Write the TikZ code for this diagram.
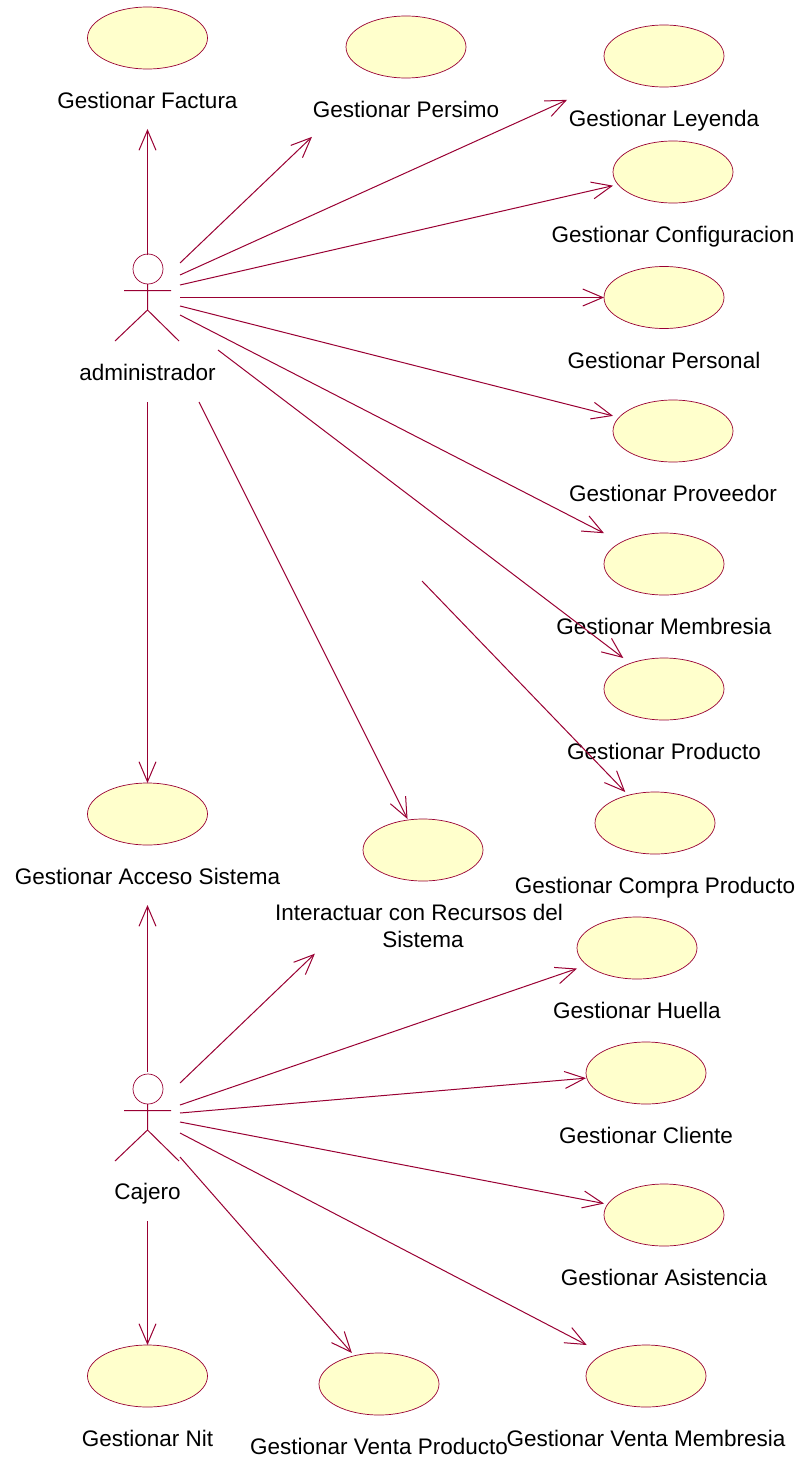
\documentclass[tikz,border=0pt]{standalone}
\usepackage{fontspec}
\setmainfont{Liberation Sans}
\usetikzlibrary{arrows.meta,shapes.geometric}
\definecolor{roseline}{HTML}{990033}
\definecolor{rosefill}{HTML}{FFFFCC}
\tikzset{
  usecase/.style={ellipse,draw=roseline,fill=rosefill,line width=0.7pt,minimum width=120pt,minimum height=62pt,inner sep=0pt,outer sep=0pt},
  ucbox/.style={rectangle,minimum width=120pt,minimum height=62pt,inner sep=0pt,outer sep=0pt},
  uclabel/.style={inner sep=0pt,outer sep=0pt,font=\fontsize{22.5}{27}\selectfont,text=black,text height=16pt,text depth=5pt},
  uclabeltwo/.style={inner sep=0pt,outer sep=0pt,align=center,font=\fontsize{22.5}{27}\selectfont,text=black},
  assoc/.style={draw=roseline,line width=1pt,-{Straight Barb[length=20pt,width=17pt,line width=1pt]}},
  limb/.style={draw=roseline,line width=1pt},
  acthead/.style={circle,draw=roseline,line width=0.7pt,minimum size=30pt,inner sep=0pt,outer sep=0pt,fill=white}
}
\begin{document}
\begin{tikzpicture}[x=1pt,y=-1pt]
\useasboundingbox (0,0) rectangle (799,1458);
% use cases
\foreach \n/\x/\y/\t in {
 fa/147.5/38/{Gestionar Factura}, pe/406/47/{Gestionar Persimo}, le/664/56/{Gestionar Leyenda},
 co/673/172/{Gestionar Configuracion}, ps/664/297.5/{Gestionar Personal}, pv/673/431/{Gestionar Proveedor},
 me/664/564/{Gestionar Membresia}, pd/664/689/{Gestionar Producto}, cp/655/823/{Gestionar Compra Producto},
 ac/147.5/814/{Gestionar Acceso Sistema}, hu/637/948/{Gestionar Huella}, cl/646/1073/{Gestionar Cliente},
 as/664/1215/{Gestionar Asistencia}, vm/646/1376/{Gestionar Venta Membresia}, vp/379/1384/{Gestionar Venta Producto},
 ni/147.5/1376/{Gestionar Nit}}{
  \node[usecase] (\n) at (\x,\y) {};
  \node[ucbox] (\n-b) at (\x,\y) {};
  \node[uclabel] (\n-l) at (\x,\y+65.3) {\t};
}
\node[usecase] (in) at (423,850) {};
\node[ucbox] (in-b) at (423,850) {};
\node[uclabeltwo] (in-l) at (419,926) {Interactuar con Recursos del\\\hspace{8pt}Sistema};
% actors
\node[acthead] (adm) at (148,269) {};
\coordinate (admneck) at (147.5,284);
\coordinate (admhip) at (147.5,310);
\coordinate (admarmL) at (124,290.5);
\coordinate (admarmR) at (171,290.5);
\coordinate (admlegL) at (115,341);
\coordinate (admlegR) at (179,341);
\draw[limb] (admneck) -- (admhip) (admarmL) -- (admarmR) (admlegL) -- (admhip) -- (admlegR);
\node[uclabel] (admn) at (147.5,374.5) {administrador};
\node[acthead] (caj) at (148,1089) {};
\coordinate (cajneck) at (147.5,1104);
\coordinate (cajhip) at (147.5,1130);
\coordinate (cajarmL) at (124,1110.5);
\coordinate (cajarmR) at (171,1110.5);
\coordinate (cajlegL) at (115,1161);
\coordinate (cajlegR) at (179,1161);
\draw[limb] (cajneck) -- (cajhip) (cajarmL) -- (cajarmR) (cajlegL) -- (cajhip) -- (cajlegR);
\node[uclabel] (cajn) at (147.5,1193.5) {Cajero};
% connector start points
\foreach \n/\x/\y in {a1/147.5/255,a2/180/263,a3/180/275,a4/180/285,a5/180/297.5,a6/180/306,a7/180/315,a8/218/350,a9/422/581,a10/147.5/402,a11/199/402,
 c1/147.5/1072,c2/180/1083,c3/180/1105,c4/180/1113,c5/180/1122,c6/180/1133,c7/180/1157,c8/147.5/1221}{
  \coordinate (\n) at (\x,\y);
}
\draw[assoc,shorten >=60pt] (a1) -- (fa);
\draw[assoc,shorten >=90.6pt] (a2) -- (pe);
\draw[assoc,shorten >=56.9pt] (a3) -- (le);
\draw[assoc] (a4) -- (co-b);
\draw[assoc] (a5) -- (ps-b);
\draw[assoc] (a6) -- (pv-b);
\draw[assoc] (a7) -- (me-b);
\draw[assoc] (a8) -- (pd-b);
\draw[assoc] (a9) -- (cp-b);
\draw[assoc] (a10) -- (ac-b);
\draw[assoc] (a11) -- (in-b);
\draw[assoc,shorten >=60pt] (c1) -- (ac);
\draw[assoc,shorten >=110.4pt] (c2) -- (in);
\draw[assoc] (c3) -- (hu-b);
\draw[assoc] (c4) -- (cl-b);
\draw[assoc] (c5) -- (as-b);
\draw[assoc] (c6) -- (vm-b);
\draw[assoc] (c7) -- (vp-b);
\draw[assoc] (c8) -- (ni-b);
\end{tikzpicture}
\end{document}
